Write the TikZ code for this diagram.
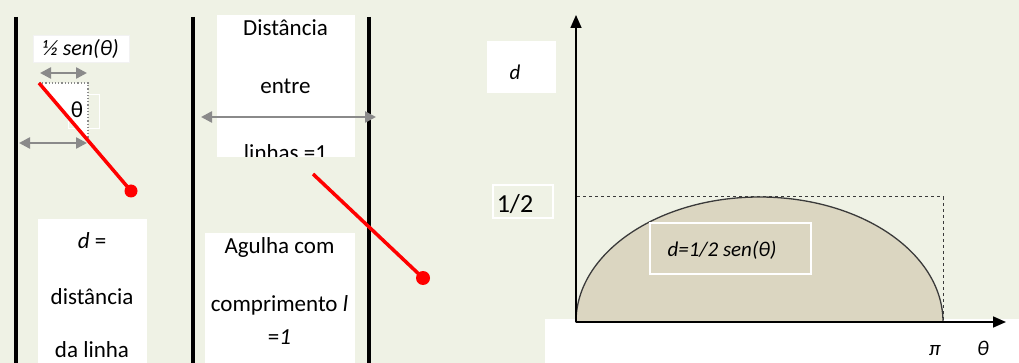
\documentclass[tikz,border=0pt]{standalone}
\usepackage{fontspec}
\setmainfont{Carlito}
\usepackage{tikz}
\usetikzlibrary{arrows.meta,positioning}
\definecolor{paper}{HTML}{EFF2E5}
\definecolor{needlered}{HTML}{FF0000}
\definecolor{arrowgrey}{HTML}{8A8A8A}
\definecolor{sand}{HTML}{DBD6C1}
\definecolor{edge}{HTML}{3A3A3A}
\begin{document}
\begin{tikzpicture}[x=1pt, y=-1pt,
  every node/.style={font=\fontsize{23}{26}\selectfont, inner sep=0pt},
  box/.style={fill=white, draw=white, inner sep=0pt},
  wall/.style={line width=3.5pt, draw=black},
  gap/.style={{Triangle[length=11pt,width=11pt]}-{Triangle[length=11pt,width=11pt]}, line width=2.5pt, draw=arrowgrey},
  needle/.style={line width=3.5pt, draw=needlered},
  needleend/.style={fill=needlered},
  axis/.style={-{Triangle[length=13pt,width=11pt]}, line width=1.6pt, draw=black},
  mathlabel/.style={font=\fontsize{21}{24}\selectfont\itshape, anchor=base}]

% page and margins
\fill[paper] (0,0) rectangle (1019,363);
\useasboundingbox (0,0) rectangle (1019,363);

% three parallel lines
\draw[wall] (16,17) -- (16,363);
\draw[wall] (193,17) -- (193,363);
\draw[wall] (369,17) -- (369,363);

% left needle with its projection
\coordinate (n1a) at (39,83);
\coordinate (n1b) at (131,191);
\coordinate (n1c) at (88,83);
\coordinate (n1d) at (88,140.5);
\fill[white] (n1a) -- (n1c) -- (n1d) -- cycle;
\draw[dotted, arrowgrey, line width=1.2pt] (n1a) -- (n1c) -- (n1d);
\node[draw=white, line width=1pt, minimum width=31pt, minimum height=34pt] (thbox) at (83.5,112) {};
\node[anchor=base] (thlabel) at (77,118) {θ};
\draw[needle] (n1a) -- (n1b);
\fill[needleend] (n1b) circle[radius=6.5pt];
\node[box, draw=white!90!gray, minimum width=96pt, minimum height=27pt, font=\fontsize{22}{24}\selectfont\itshape] (halfsen) at (81,48.5) {½ sen(θ)};
\coordinate (p1) at (40,73);
\coordinate (p2) at (87,73);
\draw[gap] (p1) -- (p2);
\coordinate (q1) at (19,143);
\coordinate (q2) at (87,143);
\draw[gap] (q1) -- (q2);

% label of d
\node[box, minimum width=108pt, minimum height=150pt, anchor=north west] (dbox) at (38,219) {};
\node[anchor=base] (dtext) at (92,248) {\textit{d} =};
\node[anchor=base] (dtext2) at (92,304) {distância};
\node[anchor=base] (dtext3) at (92,357) {da linha};

% distance between lines
\node[box, minimum width=137pt, minimum height=141pt] (gapbox) at (285.5,85.5) {};
\node[anchor=base] (gaptext) at (285.5,36) {Distância};
\node[anchor=base] (gaptext2) at (285.5,94) {entre};
\begin{scope}
\clip (gapbox.north west) rectangle (gapbox.south east);
\node[anchor=base] (gaptext3) at (285.5,161) {linhas =1};
\end{scope}
\coordinate (g1) at (201,117);
\coordinate (g2) at (376,117);
\draw[gap] (g1) -- (g2);

% right needle
\coordinate (n2a) at (313,174);
\coordinate (n2b) at (423,278);
\draw[needle] (n2a) -- (n2b);
\fill[needleend] (n2b) circle[radius=7pt];

% needle length
\node[box, minimum width=149pt, minimum height=140pt, anchor=north west] (lenbox) at (205,233) {};
\node[anchor=base] (lentext) at (279.5,254) {Agulha com};
\node[anchor=base] (lentext2) at (279.5,311) {comprimento \textit{l}};
\node[anchor=base] (lentext3) at (279.5,344) {=\textit{1}};

% graph of d against theta
\fill[white] (545,319) rectangle (1019,363);
\coordinate (o) at (576,322);
\coordinate (pi) at (943,322);
\coordinate (top) at (943,197);
\filldraw[fill=sand, draw=edge, line width=1.3pt] (o) arc[start angle=180, end angle=0, x radius=183.5pt, y radius=125pt] -- cycle;
\draw[dashed, edge, line width=1pt] (o) rectangle (top);
\coordinate (ytip) at (576,15);
\coordinate (xtip) at (1006,322);
\draw[axis] (o) -- (ytip);
\draw[axis] (o) -- (xtip);

\node[box, minimum width=68pt, minimum height=51pt] (dlabelbox) at (521,66.5) {};
\node[mathlabel] (dlabel) at (515,80) {d};
\node[draw=white, line width=1.2pt, minimum width=60pt, minimum height=33pt] (halfbox) at (523,201.5) {};
\node[anchor=base, font=\fontsize{26}{30}\selectfont] (half) at (515,213) {1/2};
\node[draw=white, line width=1.5pt, minimum width=161pt, minimum height=51pt] (curvebox) at (730.5,248.5) {};
\node[mathlabel, font=\fontsize{21}{24}\selectfont\itshape] (curvelabel) at (722,256) {d=1/2 sen(θ)};
\node[mathlabel] (pilabel) at (935,355) {π};
\node[mathlabel] (thetalabel) at (983,355) {θ};
\end{tikzpicture}
\end{document}
